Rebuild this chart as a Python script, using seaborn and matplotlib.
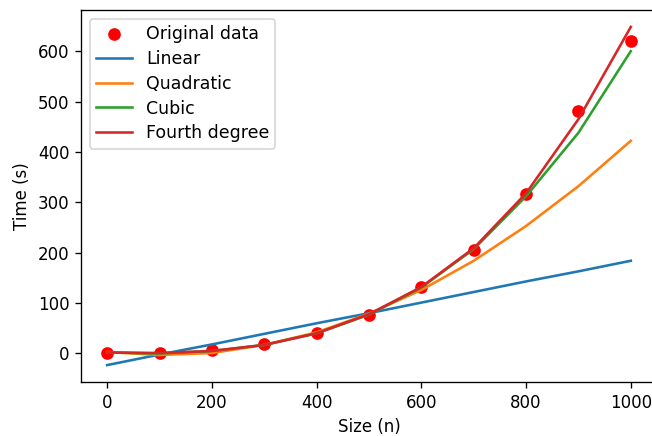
import matplotlib
matplotlib.use("Agg")
import matplotlib.pyplot as plt
import seaborn as sns
import pandas as pd

sizes = [0, 100, 200, 300, 400, 500, 600, 700, 800, 900, 1000]
times = [0, 1, 6, 18, 41, 77, 131, 206, 317, 481, 620]
linear_fit = [-23, -2, 18, 39, 60, 80, 101, 122, 143, 163, 184]
quadratic_fit = [3, -3, 1, 17, 42, 79, 126, 184, 253, 332, 422]
cubic_fit = [2, 0, 5, 17, 40, 77, 131, 207, 312, 438, 600]
fourth_fit = [2, 1, 5, 17, 40, 78, 132, 209, 318, 465, 648]

fit_names = ["Linear", "Quadratic", "Cubic", "Fourth degree"]
fit_values = [linear_fit, quadratic_fit, cubic_fit, fourth_fit]
fit_colors = ["#1f77b4", "#ff7f0e", "#2ca02c", "#d62728"]

df = pd.DataFrame({"size": sizes, "time": times})

fig = plt.figure(figsize=(652 / 120, 436 / 120), dpi=120)
ax = fig.add_axes([81 / 652, 1 - 382 / 436, (657 - 81) / 652, (382 - 10) / 436])

sns.scatterplot(data=df, x="size", y="time", ax=ax, color="red", s=7.6 ** 2,
                linewidth=0, label="Original data", zorder=1)
for name, vals, col in zip(fit_names, fit_values, fit_colors):
    d = pd.DataFrame({"size": sizes, "val": vals})
    sns.lineplot(data=d, x="size", y="val", ax=ax, color=col, label=name,
                 estimator=None, linewidth=1.55, zorder=2)

ax.set_xlim(-50, 1050)
ax.margins(y=0.05)
ax.set_xlabel("Size (n)")
ax.set_ylabel("Time (s)")
ax.legend(loc="upper left", fontsize=10.4, handlelength=2.1,
          labelspacing=0.4, borderpad=0.35)

fig.savefig("out.png", dpi=120)
